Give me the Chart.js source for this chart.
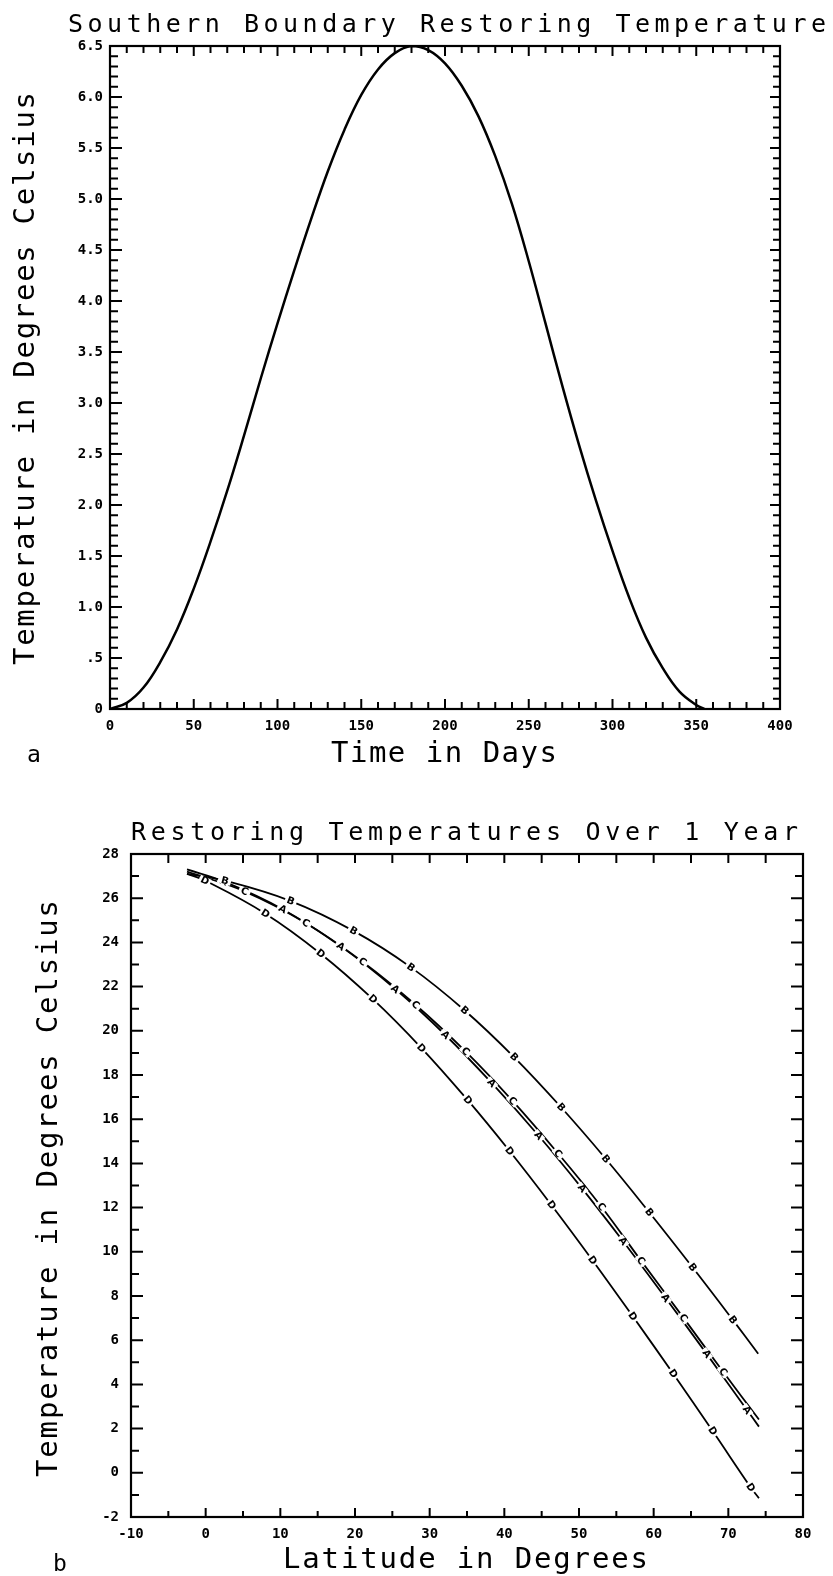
<!DOCTYPE html>
<html><head><meta charset="utf-8">
<script src="https://cdn.jsdelivr.net/npm/chart.js@4.4.0/dist/chart.umd.min.js"></script>
<style>
html,body{margin:0;padding:0;background:#fff;}
body{width:833px;height:1576px;position:relative;overflow:hidden;}
#wa{position:absolute;left:0;top:0;width:833px;height:790px;}
#wb{position:absolute;left:0;top:790px;width:833px;height:786px;}
canvas{display:block;}
</style></head><body>
<div id="wa"><canvas id="ca" width="833" height="790"></canvas></div>
<div id="wb"><canvas id="cb" width="833" height="786"></canvas></div>
<script>
// ===== Panel a: Southern Boundary Restoring Temperature =====
const titleA = 'Southern Boundary Restoring Temperature';
const xTitleA = 'Time in Days';
const yTitleA = 'Temperature in Degrees Celsius';
const panelA = 'a';
const daysA = [0,10,20,30,40,50,60,70,80,90,100,110,120,130,140,150,160,170,180,190,200,210,220,230,240,250,260,270,280,290,300,310,320,330,340,350,355];
const sbTempA = [0,0.06,0.21,0.46,0.78,1.18,1.64,2.14,2.68,3.24,3.78,4.30,4.80,5.27,5.68,6.02,6.27,6.43,6.50,6.46,6.33,6.11,5.81,5.42,4.95,4.39,3.78,3.17,2.59,2.05,1.55,1.09,0.70,0.40,0.17,0.04,0];
const xTickValsA = [0,50,100,150,200,250,300,350,400];
const xTickLabelsA = ['0','50','100','150','200','250','300','350','400'];
const yTickValsA = [0,0.5,1,1.5,2,2.5,3,3.5,4,4.5,5,5.5,6,6.5];
const yTickLabelsA = ['0','.5','1.0','1.5','2.0','2.5','3.0','3.5','4.0','4.5','5.0','5.5','6.0','6.5'];

// ===== Panel b: Restoring Temperatures Over 1 Year =====
const titleB = 'Restoring Temperatures Over 1 Year';
const xTitleB = 'Latitude in Degrees';
const yTitleB = 'Temperature in Degrees Celsius';
const panelB = 'b';
const seriesLetters = ['A','B','C','D'];
const latA = [-2.5,2.4,10.3,18.1,25.4,32.1,38.3,44.6,50.4,55.9,61.6,67.1,72.5,74.1];
const tmpA = [27.3,26.76,25.50,23.82,21.89,19.81,17.64,15.25,12.87,10.48,7.91,5.38,2.84,2.09];
const latB = [-2.5,2.6,11.4,19.8,27.5,34.7,41.3,47.6,53.6,59.4,65.2,70.6,74.0];
const tmpB = [27.1,26.79,25.87,24.52,22.87,20.92,18.81,16.54,14.20,11.79,9.30,6.92,5.39];
const latC = [-2.5,5.2,13.4,21.0,28.1,34.8,41.1,47.2,53.0,58.3,64.0,69.3,74.1];
const tmpC = [27.2,26.31,24.88,23.13,21.18,19.07,16.83,14.45,12.04,9.60,7.01,4.57,2.41];
const latD = [-2.5,-0.1,8.0,15.4,22.4,28.9,35.1,40.7,46.3,51.8,57.2,62.6,67.9,73.0,74.1];
const tmpD = [27.1,26.8,25.30,23.49,21.43,19.22,16.86,14.56,12.12,9.62,7.08,4.49,1.89,-0.66,-1.15];
const xTickValsB = [-10,0,10,20,30,40,50,60,70,80];
const xTickLabelsB = ['-10','0','10','20','30','40','50','60','70','80'];
const yTickValsB = [-2,0,2,4,6,8,10,12,14,16,18,20,22,24,26,28];
const yTickLabelsB = ['-2','0','2','4','6','8','10','12','14','16','18','20','22','24','26','28'];

// ===== styling helpers =====
const MONO = '"DejaVu Sans Mono", "Liberation Mono", monospace';
const tickFont = {family: MONO, size: 14, weight: 'bold'};

const textPlugin = {
  id: 'spacedTexts',
  afterDraw(chart, args, opts) {
    const ctx = chart.ctx;
    (opts.items || []).forEach(it => {
      ctx.save();
      ctx.font = it.font;
      ctx.fillStyle = '#000';
      ctx.textBaseline = 'alphabetic';
      ctx.textAlign = 'left';
      ctx.translate(it.x, it.y);
      if (it.rot) ctx.rotate(it.rot);
      if (it.width && 'letterSpacing' in ctx) {
        ctx.letterSpacing = '0px';
        const w0 = ctx.measureText(it.text).width;
        const sp = (it.width - w0) / (it.text.length - 1);
        ctx.letterSpacing = sp + 'px';
        ctx.fillText(it.text, -it.width / 2, 0);
        ctx.letterSpacing = '0px';
      } else if (it.width) {
        ctx.textAlign = 'center';
        ctx.fillText(it.text, 0, 0);
      } else {
        ctx.fillText(it.text, 0, 0);
      }
      ctx.restore();
    });
  }
};

const framePlugin = {
  id: 'frameTicks',
  afterDatasetsDraw(chart, args, o) {
    if (!o || !o.x) return;
    const {ctx, chartArea: a, scales} = chart;
    const xs = scales.x, ys = scales.y;
    ctx.save();
    ctx.strokeStyle = '#000';
    ctx.lineWidth = 2;
    ctx.beginPath();
    for (let i = 0; i < o.x.count; i++) {
      const v = o.x.from + i * o.x.step;
      const px = xs.getPixelForValue(v);
      const maj = i % o.x.majorEvery === 0;
      const lb = maj ? o.x.bottom[0] : o.x.bottom[1];
      const lt = maj ? o.x.top[0] : o.x.top[1];
      ctx.moveTo(px, a.bottom); ctx.lineTo(px, a.bottom - lb);
      ctx.moveTo(px, a.top); ctx.lineTo(px, a.top + lt);
    }
    for (let i = 0; i < o.y.count; i++) {
      const v = o.y.from + i * o.y.step;
      const py = ys.getPixelForValue(v);
      const maj = i % o.y.majorEvery === 0;
      const ll = maj ? o.y.left[0] : o.y.left[1];
      const lr = maj ? o.y.right[0] : o.y.right[1];
      ctx.moveTo(a.left, py); ctx.lineTo(a.left + ll, py);
      ctx.moveTo(a.right, py); ctx.lineTo(a.right - lr, py);
    }
    ctx.stroke();
    ctx.lineWidth = 2.2;
    ctx.strokeRect(a.left, a.top, a.right - a.left, a.bottom - a.top);
    ctx.restore();
  }
};

const letterPlugin = {
  id: 'curveLetters',
  afterDatasetsDraw(chart, args, opts) {
    if (!opts || !opts.letters) return;
    const ctx = chart.ctx;
    chart.data.datasets.forEach((ds, di) => {
      const pts = chart.getDatasetMeta(di).data;
      const letter = opts.letters[di];
      for (let i = 1; i < pts.length - 1; i++) {
        const p = pts[i], q0 = pts[i - 1], q1 = pts[i + 1];
        const ang = Math.atan2(q1.y - q0.y, q1.x - q0.x);
        ctx.save();
        ctx.translate(p.x, p.y);
        ctx.rotate(ang);
        ctx.fillStyle = '#fff';
        ctx.fillRect(-6, -3.5, 12, 7);
        ctx.fillStyle = '#000';
        ctx.font = 'bold 10px "DejaVu Sans"';
        ctx.textAlign = 'center';
        ctx.textBaseline = 'middle';
        ctx.fillText(letter, 0, 0.5);
        ctx.restore();
      }
    });
  }
};

Chart.register(textPlugin, framePlugin, letterPlugin);

function makeScale(min, max, vals, labels, pad, isX, size) {
  return {
    type: 'linear', min: min, max: max,
    grid: {display: false, drawTicks: false},
    border: {display: false},
    afterBuildTicks: s => { s.ticks = vals.map(v => ({value: v})); },
    afterFit: s => { if (isX) s.height = size; else s.width = size; },
    ticks: {
      autoSkip: false, maxRotation: 0, minRotation: 0,
      color: '#000', font: tickFont, padding: pad,
      callback: (v, i) => labels[i]
    }
  };
}

// ----- chart a -----
new Chart(document.getElementById('ca'), {
  type: 'line',
  data: {
    datasets: [{
      data: daysA.map((d, i) => ({x: d, y: sbTempA[i]})),
      borderColor: '#000', borderWidth: 2.5, pointRadius: 0,
      tension: 0.4, fill: false
    }]
  },
  options: {
    responsive: false, animation: false, events: [], devicePixelRatio: 1,
    layout: {padding: {left: 0, top: 46, right: 53, bottom: 0}},
    scales: {
      x: makeScale(0, 400, xTickValsA, xTickLabelsA, 9, true, 81),
      y: makeScale(0, 6.5, yTickValsA, yTickLabelsA, 7, false, 110)
    },
    plugins: {
      legend: {display: false}, tooltip: {enabled: false}, title: {display: false},
      frameTicks: {
        x: {from: 0, step: 10, count: 41, majorEvery: 5, bottom: [10, 7], top: [10, 7]},
        y: {from: 0, step: 0.1, count: 66, majorEvery: 5, left: [12, 8], right: [10, 7]}
      },
      spacedTexts: {items: [
        {text: titleA, x: 447, y: 32, width: 758, font: '25px ' + MONO},
        {text: xTitleA, x: 444, y: 762, width: 226, font: '29px ' + MONO},
        {text: yTitleA, x: 34, y: 378.5, width: 573, rot: -Math.PI / 2, font: '29px ' + MONO},
        {text: panelA, x: 27, y: 762, font: '23px ' + MONO}
      ]}
    }
  }
});

// ----- chart b -----
const seriesB = [[latA, tmpA], [latB, tmpB], [latC, tmpC], [latD, tmpD]];
new Chart(document.getElementById('cb'), {
  type: 'line',
  data: {
    datasets: seriesB.map(([xs, ys], k) => ({
      label: seriesLetters[k],
      data: xs.map((v, i) => ({x: v, y: ys[i]})),
      borderColor: '#000', borderWidth: 1.8, pointRadius: 0,
      tension: 0.4, fill: false
    }))
  },
  options: {
    responsive: false, animation: false, events: [], devicePixelRatio: 1,
    layout: {padding: {left: 0, top: 64, right: 30, bottom: 0}},
    scales: {
      x: makeScale(-10, 80, xTickValsB, xTickLabelsB, 9, true, 59),
      y: makeScale(-2, 28, yTickValsB, yTickLabelsB, 12, false, 131)
    },
    plugins: {
      legend: {display: false}, tooltip: {enabled: false}, title: {display: false},
      curveLetters: {letters: seriesLetters},
      frameTicks: {
        x: {from: -10, step: 5, count: 19, majorEvery: 2, bottom: [9, 6], top: [9, 9]},
        y: {from: -2, step: 1, count: 31, majorEvery: 2, left: [12, 8], right: [12, 8]}
      },
      spacedTexts: {items: [
        {text: titleB, x: 464.5, y: 50, width: 667, font: '25px ' + MONO},
        {text: xTitleB, x: 465.5, y: 778, width: 365, font: '29px ' + MONO},
        {text: yTitleB, x: 57, y: 398.5, width: 577, rot: -Math.PI / 2, font: '29px ' + MONO},
        {text: panelB, x: 53, y: 781, font: '23px ' + MONO}
      ]}
    }
  }
});
</script>
</body></html>
